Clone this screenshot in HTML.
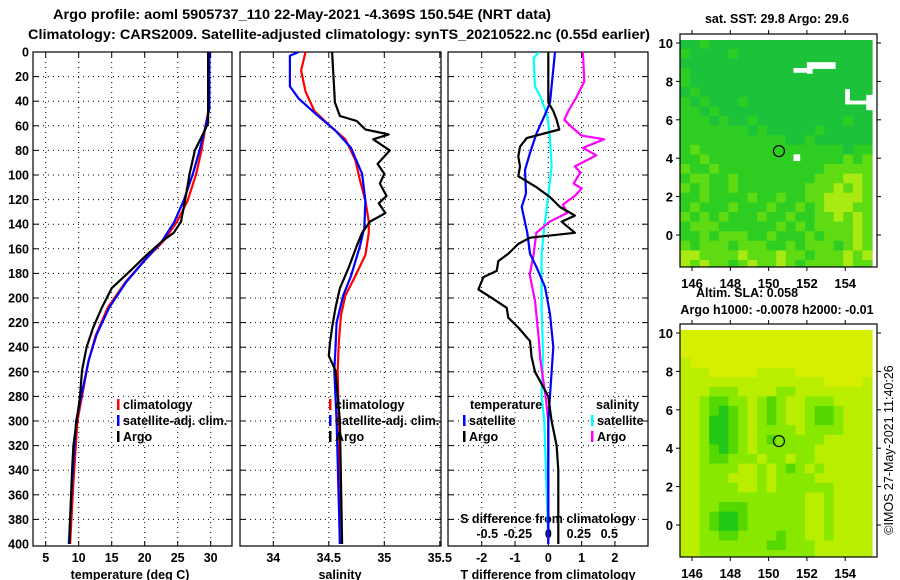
<!DOCTYPE html>
<html><head><meta charset="utf-8">
<style>
html,body{margin:0;padding:0;background:#fff;}
svg{display:block;font-family:"Liberation Sans",sans-serif;font-weight:bold;}
</style></head>
<body>
<svg id="fig" width="900" height="580" viewBox="0 0 900 580" xmlns="http://www.w3.org/2000/svg">
<rect x="0" y="0" width="900" height="580" fill="#fff"/>
<text x="302" y="19" font-size="13.5" text-anchor="middle" textLength="498" lengthAdjust="spacingAndGlyphs">Argo profile: aoml 5905737_110 22-May-2021 -4.369S 150.54E (NRT data)</text>
<text x="28" y="39" font-size="13.5" textLength="622" lengthAdjust="spacingAndGlyphs">Climatology: CARS2009. Satellite-adjusted climatology: synTS_20210522.nc (0.55d earlier)</text>
<g id="layer"></g>
</svg>
<script>
// ---- Temperature panel data (depth m, deg C) ----
const tArgoDepth=[0,58,66,80,99,121,138,147,154,165,178,192,208,224,240,259,280,300,320,340,380,400];
const tArgo=[29.6,29.6,28.9,27.6,26.8,26.1,25.5,24.4,22.6,20.3,17.8,15.0,13.5,12.2,11.2,10.5,10.2,9.7,9.2,9.0,8.7,8.6];
const tClimDepth=[0,46,61,80,99,121,138,154,170,187,208,230,251,300,350,400];
const tClim=[29.7,29.7,29.2,28.6,27.8,26.5,24.9,22.8,19.9,17.1,14.4,12.6,11.5,9.8,9.2,8.7];
const tSat=[29.8,29.8,29.2,28.3,27.3,25.9,24.5,22.6,19.9,17.2,14.6,12.7,11.5,9.6,9.0,8.5];
// ---- Salinity panel data ----
const sArgoDepth=[0,41,52,56,63,67,71,80,91,99,107,117,123,131,138,147,158,175,192,208,224,237,247,259,300,350,400];
const sArgo=[34.53,34.555,34.6,34.75,34.83,35.04,34.9,35.05,34.94,35.0,34.96,35.02,34.95,35.01,34.87,34.8,34.75,34.68,34.6,34.56,34.53,34.51,34.5,34.56,34.6,34.61,34.62];
const sClimDepth=[0,15,32,48,60,71,88,104,121,138,147,165,182,198,214,236,259,300,400];
const sClim=[34.29,34.25,34.29,34.37,34.51,34.65,34.74,34.78,34.83,34.86,34.86,34.83,34.74,34.65,34.61,34.59,34.58,34.59,34.6];
const sSatDepth=[0,3,28,38,51,64,78,99,121,143,158,182,198,220,241,259,300,400];
const sSat=[34.23,34.15,34.15,34.23,34.39,34.56,34.7,34.8,34.83,34.82,34.78,34.7,34.63,34.57,34.56,34.55,34.57,34.6];
// ---- Difference panel data ----
const dTArgoDepth=[0,41,48,55,63,70,77,85,93,101,110,118,126,133,138,147,151,156,164,170,178,183,193,199,208,216,224,235,248,260,280,300,320,340,400];
const dTArgo=[0,0,0.15,0.25,0.33,-0.65,-0.85,-0.9,-0.85,-0.9,-0.35,0.05,0.35,0.8,0.4,0.8,-0.55,-0.9,-1.2,-1.5,-1.55,-1.95,-2.1,-1.75,-1.25,-1.2,-0.9,-0.55,-0.5,-0.4,0,0.1,0.25,0.3,0.3];
const dTSatDepth=[0,28,41,51,66,82,96,115,126,147,164,175,191,213,240,260,300,400];
const dTSat=[0.2,0.1,0.05,-0.1,-0.35,-0.55,-0.7,-0.67,-0.8,-0.63,-0.55,-0.35,-0.1,0.05,0.15,0.1,0,0];
const dSSatDepth=[0,5,28,36,51,66,93,117,142,165,208,245,280,300,400];
const dSSat=[-0.07,-0.11,-0.1,-0.06,-0.01,0.01,0.025,0,-0.03,-0.05,-0.05,-0.04,-0.05,-0.03,0];
const dSArgoDepth=[0,24,37,48,55,61,68,71,78,84,93,98,107,111,117,124,131,138,147,165,181,202,235,250,280,300,400];
const dSArgo=[0.26,0.27,0.21,0.15,0.12,0.175,0.25,0.42,0.26,0.36,0.2,0.24,0.19,0.25,0.2,0.11,0.14,0.01,-0.09,-0.11,-0.14,-0.1,-0.07,-0.06,-0.02,0,0];
// ---- Tick labels ----
const depthTicks=[0,20,40,60,80,100,120,140,160,180,200,220,240,260,280,300,320,340,360,380,400];
const tempTicks=[5,10,15,20,25,30];
const salTicks=[34,34.5,35,35.5];
const salTickLabels=["34","34.5","35","35.5"];
const dTTicks=[-2,-1,0,1,2];
const dSTicks=[-0.5,-0.25,0,0.25,0.5];
const lonTicks=[146,148,150,152,154];
const latTicks=[10,8,6,4,2,0];
// ---- Map grids (0.5 deg cells, rows from north) ----
const sstGrid=[
"GGgGGGGGGGGGGGGGGGGG","gGGGGgGGGGGGGGGGGGGG","GGGGGGGGGGGGGGGGGGGG","gGGGGGGGGGGGGGGGGGGG",
"gGGGGGGGGGGGGGGGGGGG","GgGGGGGGGGGGGGGGGGGG","gGgGGGgGGGGGGGGGGGGG","ggGgGGGGGGGGGGGGGGGG",
"gggGgGGgGGGGGGGGGgGG","gggggggGgGGGGGgGGGGG","gggggggggggGGgGGGGGG","glgggggggggggggggGgg",
"gglgggggggggggggglgl","lgglggggggggggglllll","gllgglgggggggglllyyl","lglgglggggggglllylyl",
"gglgggglgglggllyyyyl","glggglggglgglglyyyll","lglglggglgglggllylyl","glllgggggglglgllllyl",
"gglglllgglggglglllyl","lglllglllgglglllglyl","yyllllylllyllglllyly","ylyllglyllylgllllyll"];
const slaGrid=[
"YYYYYYYYYYYYYYYYYYYY","YYYYYYYYYYYYYYYYYYYY","YYYYYYYYYYYYYYYYYYYY","yYYYYYYYYYYYYYYYYYYY",
"yyyYYYYYyyyyYYYYYYYY","yyyyyyyyyyyyyyyYYYYy","yyylllyyyyllyyyyyyyy","yylmmllylmlyylllyyyy",
"yylmgmlylmlyylmmlyyy","yylggmlylmlyylmmlyyy","yylggmlyllllyllllyyy","yylggmlylmlllllyyyyy",
"yylmgmlyllllllyyyyyy","yylmmlllyllyllyyyyyy","yyllllyylylmlylyyyyy","yylllyyylyllllyyyyyy",
"yyllllyylyllllllyyyy","yylllllllllllyylyyyy","yyllmmmllllllyylyyyy","yylmggmllllllyylyyyy",
"yylmggmllllllyylyyyy","yyllmmllllmllyylyyyy","yylllllllmmlllyyyyyy","yyllllllllllllyyyyyy"];
const argoLon=150.54, argoLat=4.369;

const NS="http://www.w3.org/2000/svg";
const L=document.getElementById('layer');
function mk(tag,attrs,parent){const e=document.createElementNS(NS,tag);for(const k in attrs)e.setAttribute(k,attrs[k]);(parent||L).appendChild(e);return e;}
function txt(x,y,s,size,anchor,parent){const t=mk('text',{x:x,y:y,'font-size':size,'text-anchor':anchor||'middle'},parent);t.textContent=s;return t;}

const yD=d=>52+d*1.23;
const xT=t=>45.7+(t-5)*6.6;
const xS=s=>273.3+(s-34)*111;
const xDT=t=>548.3+t*33.3;
const xDS=s=>548.3+s*133.2;
const xDSLabel=s=>548.3+s*122;
const panels=[{x0:33,x1:232,name:'temperature-panel'},{x0:240,x1:441,name:'salinity-panel'},{x0:448,x1:648,name:'difference-panel'}];
const PY0=52, PY1=546;

const defs=mk('defs',{});
panels.forEach((p,i)=>{const c=mk('clipPath',{id:'clip'+i},defs);mk('rect',{x:p.x0,y:PY0,width:p.x1-p.x0,height:PY1-PY0},c);});

panels.forEach((p,i)=>{
  const g=mk('g',{});
  
  
  depthTicks.forEach(d=>{
    if(d===0||d===400)return;
    mk('line',{x1:p.x0,x2:p.x1,y1:yD(d),y2:yD(d),stroke:'#000','stroke-width':1,'stroke-dasharray':'1,4'},g);
    mk('line',{x1:p.x0,x2:p.x0+6,y1:yD(d),y2:yD(d),stroke:'#000'},g);
    mk('line',{x1:p.x1-6,x2:p.x1,y1:yD(d),y2:yD(d),stroke:'#000'},g);
  });
  let xs=[];
  if(i===0)xs=tempTicks.map(xT);else if(i===1)xs=salTicks.map(xS);else xs=dTTicks.map(xDT);
  xs.forEach(x=>{
    if(x<=p.x0+1||x>=p.x1-1)return;
    mk('line',{x1:x,x2:x,y1:PY0,y2:PY1,stroke:'#000','stroke-dasharray':'1,4'},g);
    mk('line',{x1:x,x2:x,y1:PY0,y2:PY0+5,stroke:'#000'},g);
    mk('line',{x1:x,x2:x,y1:PY1-5,y2:PY1,stroke:'#000'},g);
  });
  const fr=mk('rect',{x:p.x0,y:PY0,width:p.x1-p.x0,height:PY1-PY0,fill:'none',stroke:'#000','stroke-width':1.2});
  
  
});

depthTicks.forEach(d=>{
  const t=txt(29,yD(d)+4.5,String(d),12.5,'end');
  
  
});
tempTicks.forEach(v=>{
  const t=txt(xT(v),562,String(v),12.5);
  
  
});
salTicks.forEach((v,i)=>{
  const t=txt(xS(v),562,salTickLabels[i],12.5);
  
  
});
dTTicks.forEach(v=>{
  const t=txt(xDT(v),562,String(v),12.5);
  
  
});
dSTicks.forEach(v=>{
  const t=txt(xDSLabel(v),538,String(v),12.5);
  
  
});
let at;
at=txt(130,579,'temperature (deg C)',12.5);


at=txt(340,579,'salinity',12.5);


at=txt(548,579,'T difference from climatology',12.5);


at=txt(548,523,'S difference from climatology',12.5);



function series(depths,vals,xf,color,w,clip,name){
  let d='';
  depths.forEach((dd,i)=>{d+=(i?'L':'M')+xf(vals[i]).toFixed(1)+','+yD(dd).toFixed(1);});
  const p=mk('path',{d:d,fill:'none',stroke:color,'stroke-width':w,'stroke-linejoin':'round','clip-path':'url(#clip'+clip+')'});
  
  
}
series(tClimDepth,tClim,xT,'#ff0000',2.2,0,'temperature-climatology-line');
series(tClimDepth,tSat,xT,'#0000ff',2.2,0,'temperature-satellite-line');
series(tArgoDepth,tArgo,xT,'#000',2.2,0,'temperature-argo-line');
series(sClimDepth,sClim,xS,'#ff0000',2.2,1,'salinity-climatology-line');
series(sSatDepth,sSat,xS,'#0000ff',2.2,1,'salinity-satellite-line');
series(sArgoDepth,sArgo,xS,'#000',2.2,1,'salinity-argo-line');
series(dSSatDepth,dSSat,xDS,'#00ffff',2.2,2,'s-diff-satellite-line');
series(dSArgoDepth,dSArgo,xDS,'#ff00ff',2.2,2,'s-diff-argo-line');
series(dTSatDepth,dTSat,xDT,'#0000ff',2.2,2,'t-diff-satellite-line');
series(dTArgoDepth,dTArgo,xDT,'#000',2.2,2,'t-diff-argo-line');

function legend(x,y,color,label,name){
  const g=mk('g',{});
  
  
  mk('rect',{x:x,y:y-10,width:2.5,height:11,fill:color},g);
  txt(x+6,y,label,12.5,'start',g);
}
legend(117,409,'#ff0000','climatology','legend-climatology');
legend(117,425,'#0000ff','satellite-adj. clim.','legend-satellite-adj');
legend(117,441,'#000','Argo','legend-argo');
legend(329,409,'#ff0000','climatology','legend-sal-climatology');
legend(329,425,'#0000ff','satellite-adj. clim.','legend-sal-satellite-adj');
legend(329,441,'#000','Argo','legend-sal-argo');
at=txt(470,409,'temperature',12.5,'start');


at=txt(596,409,'salinity',12.5,'start');


legend(463,425,'#0000ff','satellite','legend-t-satellite');
legend(463,441,'#000','Argo','legend-t-argo');
legend(591,425,'#00ffff','satellite','legend-s-satellite');
legend(591,441,'#ff00ff','Argo','legend-s-argo');

const sstCol={G:'#1cc23a',g:'#2ecd22',l:'#5edb12',y:'#a8ea12'};
const slaCol={Y:'#d6ee00',y:'#baee00',l:'#88e800',m:'#55d800',g:'#22c818'};
const lonX=lon=>692+(lon-146)*19.15;
function drawMap(top,grid,cols,name){
  const latY=lat=>top+9+(10-lat)*19.2;
  const g=mk('g',{});
  
  
  const cid='mclip'+top;
  const cp=mk('clipPath',{id:cid},defs);
  mk('rect',{x:680,y:top,width:197,height:233},cp);
  const cg=mk('g',{'clip-path':'url(#'+cid+')'},g);
  grid.forEach((row,r)=>{
    for(let c=0;c<row.length;c++){
      const lon0=145.4+c*0.5, lat0=10.2-r*0.5;
      const cell=mk('rect',{x:lonX(lon0).toFixed(1),y:latY(lat0).toFixed(1),width:10.2,height:10.2,fill:cols[row[c]]},cg);
      
      
    }
  });
  mk('rect',{x:680,y:top,width:197,height:6,fill:'#fff'},cg);
  const circ=mk('circle',{cx:lonX(argoLon),cy:latY(argoLat),r:5.5,fill:'none',stroke:'#000','stroke-width':1.2},g);
  
  
  mk('rect',{x:680,y:top,width:197,height:233,fill:'none',stroke:'#000','stroke-width':1.2},g);
  latTicks.forEach(v=>{
    const y=latY(v);
    mk('line',{x1:877,x2:881,y1:y,y2:y,stroke:'#000'},g);
    mk('line',{x1:676,x2:680,y1:y,y2:y,stroke:'#000'},g);
    const t=txt(673,y+5,String(v),13,'end',g);
    
    
  });
  lonTicks.forEach(v=>{
    const x=lonX(v);
    mk('line',{x1:x,x2:x,y1:top-4,y2:top,stroke:'#000'},g);
    mk('line',{x1:x,x2:x,y1:top+233,y2:top+237,stroke:'#000'},g);
    const t=txt(x,top+254,String(v),13,'middle',g);
    
    
  });
  return latY;
}
const ly1=drawMap(34,sstGrid,sstCol,'sst-map');
[[151.3,8.7,0.7,0.25],[152,9.0,1.5,0.35],[152,8.7,0.3,0.3],[154,7.6,0.25,0.7],[154,7.0,1.2,0.2],[155.1,7.3,0.5,0.8],[151.3,4.2,0.35,0.35]].forEach(w=>{
  const r=mk('rect',{x:lonX(w[0]),y:ly1(w[1]),width:w[2]*19.15,height:w[3]*19.2,fill:'#fff'});
  
  
});
drawMap(324,slaGrid,slaCol,'sla-map');

at=txt(777,23,'sat. SST: 29.8  Argo: 29.6',12.5);


at=txt(747,297,'Altim. SLA: 0.058',12.5);


at=txt(777,314,'Argo h1000: -0.0078 h2000: -0.01',12.5);


at=mk('text',{x:0,y:0,'font-size':12.5,'font-weight':'normal','text-anchor':'middle',transform:'translate(893,450) rotate(-90)'});
at.textContent='©IMOS 27-May-2021 11:40:26';


</script>
</body></html>
